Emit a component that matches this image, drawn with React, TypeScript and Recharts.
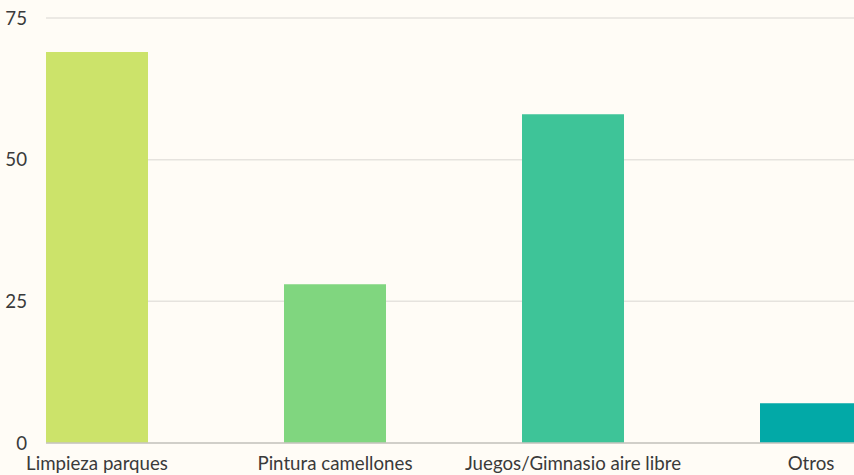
import { BarChart, Bar, XAxis, YAxis, CartesianGrid, Cell } from 'recharts';

const categories = ['Limpieza parques', 'Pintura camellones', 'Juegos/Gimnasio aire libre', 'Otros'];
const values = [69, 28, 58, 7];
const barColors = ['#cce36a', '#80d67f', '#3ec498', '#02a9a7'];
const yTicks = [0, 25, 50, 75];

const data = categories.map((name, i) => ({ name, value: values[i] }));

export default function App() {
  return (
    <div
      style={{
        position: 'fixed',
        top: 0,
        left: 0,
        width: 854,
        height: 475,
        overflow: 'hidden',
        background: '#fffcf6',
        fontFamily: 'Lato, sans-serif',
      }}
    >
      <BarChart
        width={930}
        height={475}
        data={data}
        margin={{ top: 18, right: 0, bottom: 0, left: 0 }}
      >
        <CartesianGrid vertical={false} stroke="#e6e3de" strokeWidth={1.5} />
        <XAxis
          dataKey="name"
          padding={{ left: -68, right: 0 }}
          axisLine={{ stroke: '#c9c6c1', strokeWidth: 1.5 }}
          tickLine={false}
          tick={{ fill: '#3a3a3a', fontSize: 18.7 }}
          tickMargin={8}
          height={32}
          interval={0}
        />
        <YAxis
          domain={[0, 75]}
          ticks={yTicks}
          axisLine={false}
          tickLine={false}
          tick={{ fill: '#3a3a3a', fontSize: 18.7 }}
          tickMargin={13}
          width={46}
        />
        <Bar dataKey="value" barSize={102} isAnimationActive={false}>
          {data.map((d, i) => (
            <Cell key={d.name} fill={barColors[i]} />
          ))}
        </Bar>
      </BarChart>
    </div>
  );
}
